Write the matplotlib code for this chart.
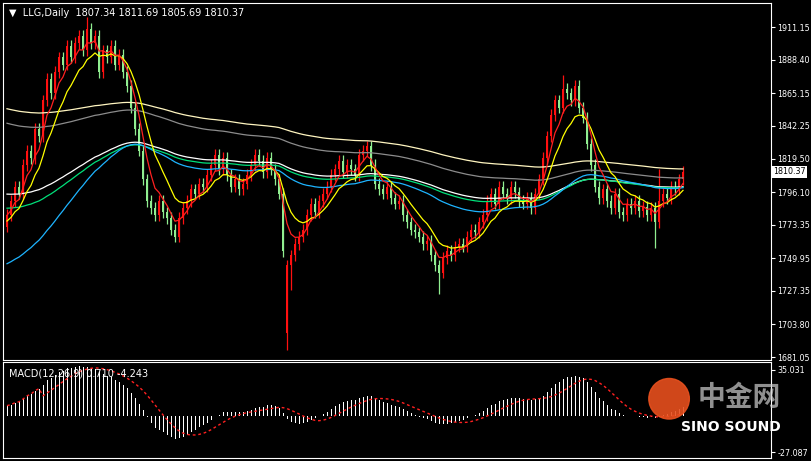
import numpy as np
import matplotlib
matplotlib.use("Agg")
import matplotlib.pyplot as plt
from matplotlib.patches import Rectangle, Ellipse

plt.rcParams['font.family'] = ['DejaVu Sans']

# ── data ──────────────────────────────────────────────────────────────────────
closes = [
    1780, 1790, 1800, 1795, 1815, 1825, 1820, 1840, 1835, 1860,
    1875, 1865, 1880, 1890, 1885, 1898, 1890, 1900, 1905, 1895,
    1910, 1900, 1905, 1880, 1895, 1890, 1898, 1885, 1892, 1880,
    1870, 1855, 1840, 1825, 1805, 1790, 1785, 1780, 1790, 1782,
    1778, 1770, 1765, 1778, 1785, 1790, 1798, 1795, 1802, 1800,
    1808, 1815, 1822, 1812, 1820, 1808, 1800, 1805, 1798, 1802,
    1808, 1815, 1822, 1818, 1810, 1820, 1812, 1805, 1795, 1755,
    1745, 1752, 1760, 1765, 1770, 1780, 1788, 1782, 1790, 1795,
    1800, 1808, 1812, 1818, 1810, 1815, 1812, 1808, 1822, 1825,
    1828, 1815, 1802, 1798, 1795, 1800, 1792, 1788, 1790, 1780,
    1775, 1770, 1768, 1765, 1760, 1762, 1752, 1745, 1740, 1750,
    1755, 1752, 1758, 1760, 1758, 1765, 1770, 1768, 1775, 1780,
    1790, 1795, 1788, 1800, 1795, 1792, 1800, 1796, 1790, 1788,
    1792, 1785, 1795, 1805, 1820, 1835, 1850, 1860, 1855, 1868,
    1865, 1860, 1870, 1855, 1848, 1830, 1815, 1800, 1792, 1798,
    1790, 1785, 1795, 1782, 1780, 1788, 1785, 1790, 1783, 1786,
    1780, 1785, 1775, 1790, 1795, 1792, 1800, 1798, 1805, 1810.37,
]
first_open = 1772
open_override = {70: 1698}
wick = 4.0
low_override = {70: 1686, 71: 1728, 108: 1725, 162: 1757}
high_override = {20: 1918, 139: 1878, 163: 1812}

# moving averages: (period, seed, colour)
ma_specs = [
    (200, 1855, '#fff5c0'),
    (150, 1845, '#8c8c8c'),
    (100, 1795, '#ffffff'),
    (90, 1785, '#00e07a'),
    (60, 1745, '#1eb4ff'),
    (10, 1775, '#ffff00'),
    (5, 1780, '#ff2020'),
]

price_ticks = [1681.05, 1703.80, 1727.35, 1749.95, 1773.35, 1796.10,
               1819.50, 1842.25, 1865.15, 1888.40, 1911.15]
macd_ticks = [35.031, -27.087]


def ema(values, period, seed):
    k = 2.0 / (period + 1)
    out, prev = [], seed
    for v in values:
        prev = prev + k * (v - prev)
        out.append(prev)
    return np.array(out)


c = np.array(closes)
o = np.concatenate([[first_open], c[:-1]])
for i, v in open_override.items():
    o[i] = v
n = len(c)
x = np.arange(n)

fig = plt.figure(figsize=(8.11, 4.61), dpi=100, facecolor='black')
W, H = 811, 461
ax = fig.add_axes([3 / W, 1 - 360 / H, 768 / W, 357 / H], facecolor='black')
axm = fig.add_axes([3 / W, 1 - 458 / H, 768 / W, 96 / H], facecolor='black')

for a in (ax, axm):
    for s in a.spines.values():
        s.set_color('white')
    a.tick_params(colors='white', labelsize=5.8, length=3, pad=1.5, direction='out')
    a.yaxis.tick_right()
    a.set_xticks([])
    a.set_xlim(-1, 191)

# ── candles ───────────────────────────────────────────────────────────────────
for i in range(n):
    up = c[i] >= o[i]
    col = '#ff1010' if up else '#90ee90'
    hi = high_override.get(i, max(o[i], c[i]) + wick)
    lo = low_override.get(i, min(o[i], c[i]) - wick)
    ax.vlines(i, lo, hi, color=col, lw=0.9)
    ax.add_patch(Rectangle((i - 0.3, min(o[i], c[i])), 0.6,
                           max(abs(c[i] - o[i]), 0.4), color=col, lw=0))

for period, seed, color in ma_specs:
    ax.plot(x, ema(c, period, seed), color=color, lw=0.9)

ax.set_ylim(1679, 1928)
ax.set_yticks(price_ticks)
ax.set_yticklabels([f'{t:.2f}' for t in price_ticks])
ax.text(1.003, (1810.37 - 1679) / (1928 - 1679), '1810.37', transform=ax.transAxes,
        fontsize=5.8, color='black', va='center', ha='left',
        bbox=dict(facecolor='white', edgecolor='none', pad=1.0))
ax.text(0.008, 0.985, '\u25bc  LLG,Daily  1807.34 1811.69 1805.69 1810.37',
        transform=ax.transAxes, color='white', fontsize=7, va='top')

# ── MACD ──────────────────────────────────────────────────────────────────────
macd = ema(c, 12, c[0]) - ema(c, 26, c[0]) + 8
signal = np.convolve(macd, np.ones(9) / 9, mode='full')[:n]
signal[:9] = macd[:9]
axm.bar(x, macd, width=0.25, color='white')
axm.plot(x, signal, color='#ff2020', lw=1, ls=(0, (2, 2)))
axm.set_ylim(-31.6, 41)
axm.set_yticks(macd_ticks)
axm.set_yticklabels(['35.031', '-27.087'])
axm.text(0.008, 0.93, 'MACD(12,26,9) 0.710 -4.243', transform=axm.transAxes,
         color='white', fontsize=7, va='top')

# watermark
fig.patches.append(Ellipse((0.825, 0.135), 0.05, 0.088, transform=fig.transFigure,
                           color='#e8501e', alpha=0.9))
fig.text(0.86, 0.12, '中金网', fontsize=20, color='#cfcfcf', alpha=0.7,
         family=['Noto Sans CJK SC', 'DejaVu Sans'], fontweight='bold')
fig.text(0.84, 0.065, 'SINO SOUND', fontsize=10, color='white', fontweight='bold')

fig.savefig('out.png', dpi=100, facecolor='black')
